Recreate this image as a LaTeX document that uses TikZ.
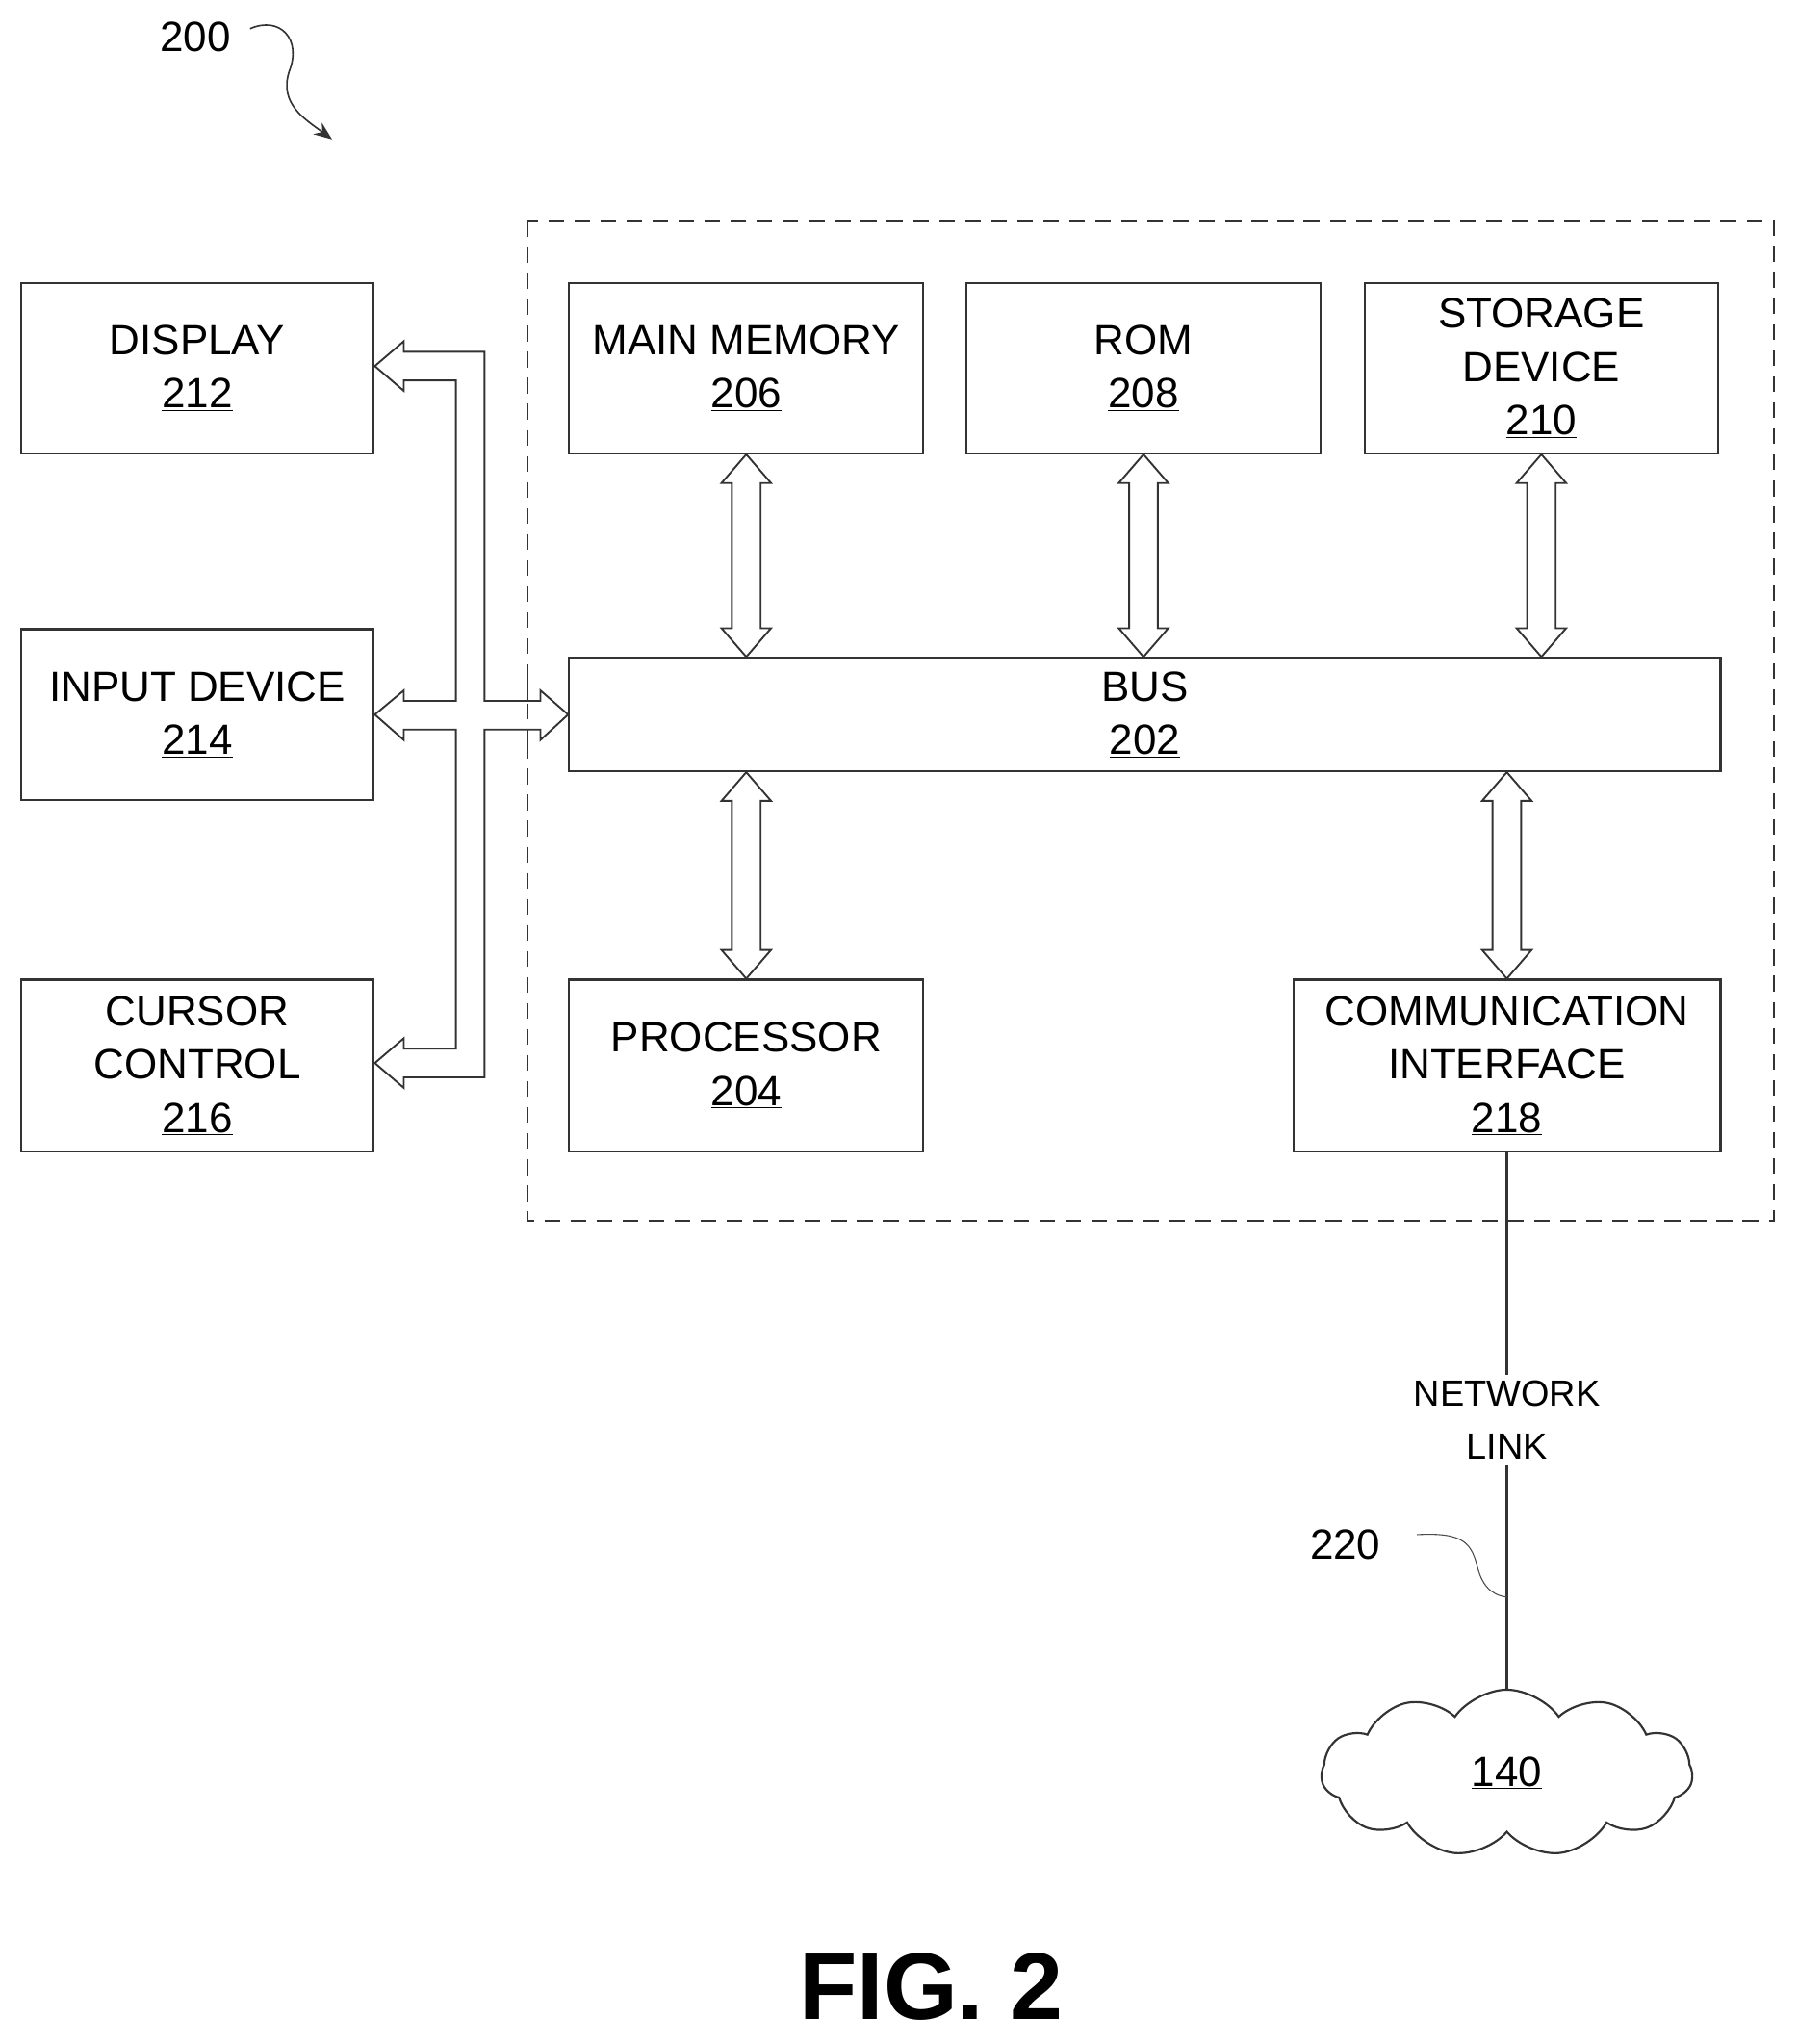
\documentclass[tikz,border=0pt]{standalone}
\usepackage{fontspec}
\setmainfont{Liberation Sans}
\usetikzlibrary{shapes.symbols,arrows.meta,calc}
\begin{document}
\begin{tikzpicture}[x=1pt,y=-1pt,
  box/.style={draw=black!80,line width=1.6pt,align=center,inner sep=0pt,
    font=\fontsize{32.5}{41}\selectfont},
  harrow/.style={draw=black!80,line width=1.4pt,fill=white,line join=miter},
  lbl/.style={font=\fontsize{32.5}{41}\selectfont,align=center}]
\useasboundingbox (0,0) rectangle (1380,1569);
% dashed enclosure
\draw[black!80,line width=1.8pt,dash pattern=on 12pt off 8pt] (405,170) rectangle (1362,937);
% boxes
\node[box,minimum width=271pt,minimum height=131pt] (disp) at (151.5,282.5) {DISPLAY\\\underline{212}};
\node[box,minimum width=271pt,minimum height=131pt] (inp) at (151.5,548.5) {INPUT DEVICE\\\underline{214}};
\node[box,minimum width=271pt,minimum height=132pt] (cur) at (151.5,818) {CURSOR\\CONTROL\\\underline{216}};
\node[box,minimum width=272pt,minimum height=131pt] (mm) at (573,282.5) {MAIN MEMORY\\\underline{206}};
\node[box,minimum width=272pt,minimum height=131pt] (rom) at (878,282.5) {ROM\\\underline{208}};
\node[box,minimum width=271pt,minimum height=131pt] (sto) at (1183.5,282.5) {STORAGE\\DEVICE\\\underline{210}};
\node[box,minimum width=884pt,minimum height=87pt] (bus) at (879,548.5) {BUS\\\underline{202}};
\node[box,minimum width=272pt,minimum height=132pt] (proc) at (573,818) {PROCESSOR\\\underline{204}};
\node[box,minimum width=328pt,minimum height=132pt] (comm) at (1157,818) {COMMUNICATION\\INTERFACE\\\underline{218}};
% vertical double arrows
\newcommand\vdbl[2]{\draw[harrow] let \p1=(#1), \p2=(#2) in
  (\x1,\y1) -- (\x1+19pt,\y1-22pt) -- (\x1+11pt,\y1-22pt) -- (\x1+11pt,\y2+22pt) --
  (\x1+19pt,\y2+22pt) -- (\x1,\y2) -- (\x1-19pt,\y2+22pt) -- (\x1-11pt,\y2+22pt) --
  (\x1-11pt,\y1-22pt) -- (\x1-19pt,\y1-22pt) -- cycle;}
\vdbl{mm.south}{mm.south|-bus.north}
\vdbl{rom.south}{rom.south|-bus.north}
\vdbl{sto.south}{sto.south|-bus.north}
\vdbl{bus.south-|proc.north}{proc.north}
\vdbl{bus.south-|comm.north}{comm.north}
% left bus arrows
\draw[harrow] (disp.east|-0,281) -- (310,262) -- (310,270) -- (372,270) -- (372,538) -- (415,538) -- (415,530)
  -- (bus.west) -- (415,568) -- (415,560) -- (372,560) -- (372,827) -- (310,827) -- (310,835)
  -- (cur.east|-0,816) -- (310,797) -- (310,805) -- (350,805) -- (350,560) -- (310,560) -- (310,568)
  -- (inp.east) -- (310,530) -- (310,538) -- (350,538) -- (350,292) -- (310,292) -- (310,300) -- cycle;
\draw[black!80,line width=1.8pt,dash pattern=on 12pt off 8pt] (405,520) -- (405,580);
% network link
\node[cloud,cloud puffs=11,cloud puff arc=110,aspect=2.3,draw=black!80,line width=1.6pt,
  minimum width=285pt,minimum height=128pt,font=\fontsize{32.5}{41}\selectfont] (net) at (1157,1361) {\underline{140}};
\node[lbl,fill=white,inner sep=4pt,font=\fontsize{28}{41}\selectfont] (nl) at (1157,1090) {NETWORK\\LINK};
\draw[black!80,line width=1.6pt] (comm.south) -- (nl.north);
\draw[black!80,line width=1.6pt] (nl.south) -- (net.north);
\node[lbl] (n220) at (1033,1186) {220};
\coordinate (c220) at (1157,1226);
\draw[black!70,line width=0.8pt] (1088,1178) .. controls (1125,1176) and (1130,1185) .. (1135,1205) .. controls (1140,1222) and (1150,1225) .. (c220);
% 200 label
\node[lbl] (n200) at (150,28) {200};
\coordinate (a200) at (255,107);
\draw[black!80,line width=1.2pt,-{Stealth[length=14pt,width=11pt]}] (192,22) .. controls (215,12) and (232,30) .. (222,55) .. controls (214,80) and (235,92) .. (a200);
% figure title
\node[font=\fontsize{73}{85}\selectfont\bfseries] (fig) at (715,1525) {FIG. 2};
\end{tikzpicture}
\end{document}
